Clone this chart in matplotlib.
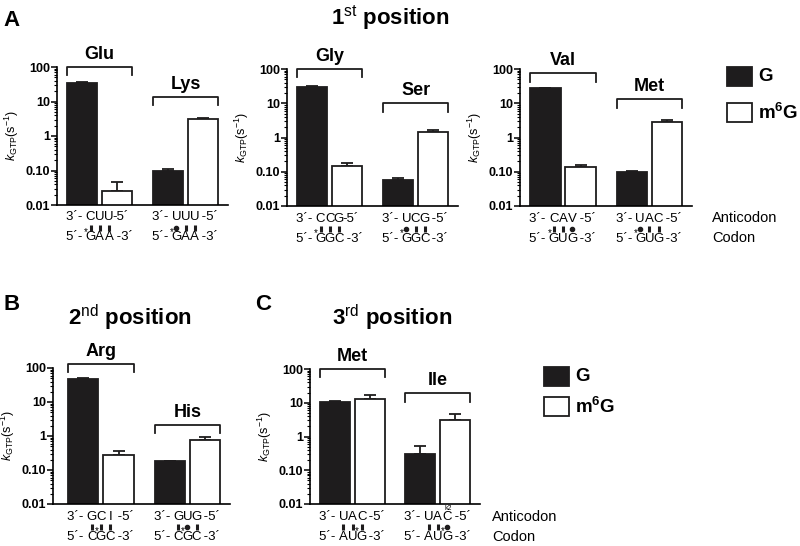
import numpy as np
import matplotlib
matplotlib.use('Agg')
import matplotlib.pyplot as plt
from matplotlib.patches import Rectangle
from matplotlib.transforms import offset_copy
from matplotlib.ticker import LogLocator, FixedLocator, FixedFormatter, NullFormatter

plt.rcParams['font.family'] = 'Liberation Sans'
plt.rcParams['mathtext.fontset'] = 'custom'
plt.rcParams['mathtext.rm'] = 'Liberation Sans'
plt.rcParams['mathtext.it'] = 'Liberation Sans:italic'
plt.rcParams['mathtext.bf'] = 'Liberation Sans:bold'

W, H = 800, 546

# ---- data ----
amino = [['Glu', 'Lys'], ['Gly', 'Ser'], ['Val', 'Met'], ['Arg', 'His'], ['Met', 'Ile']]
g_val = [[35, 0.10], [29, 0.056], [27, 0.098], [46, 0.18], [10.8, 0.30]]
g_err = [[2, 0.012], [2, 0.009], [1.5, 0.01], [6, 0.01], [0.8, 0.22]]
m6g_val = [[0.026, 3.1], [0.15, 1.45], [0.135, 2.9], [0.28, 0.75], [13, 3.1]]
m6g_err = [[0.021, 0.2], [0.03, 0.25], [0.025, 0.3], [0.08, 0.2], [4, 1.4]]
bracket_y = [[100, 13.5], [100, 10], [75, 13], [130, 2.1], [100, 19]]

anti_nt = [[('C', 'U', 'U'), ('U', 'U', 'U')], [('C', 'C', 'G'), ('U', 'C', 'G')],
           [('C', 'A', 'V'), ('U', 'A', 'C')], [('G', 'C', 'I'), ('G', 'U', 'G')],
           [('U', 'A', 'C'), ('U', 'A', 'C')]]
anti_suf = [['-5´', ' -5´'], ['-5´', ' -5´'], [' -5´', ' -5´'], [' -5´', ' -5´'], [' -5´', ' -5´']]
codon_nt = [('G', 'A', 'A'), ('G', 'G', 'C'), ('G', 'U', 'G'), ('C', 'G', 'C'), ('A', 'U', 'G')]
pairing = [[('|', '|', '|'), ('•', '|', '|')], [('|', '|', '|'), ('•', '|', '|')],
           [('|', '|', '•'), ('•', '|', '|')], [('|', '|', '|'), ('|', '•', '|')],
           [('|', '|', '|'), ('|', '|', '•')]]
star_pos = [0, 0, 0, 1, 2]

# axes boxes in pixels: left, right, top, bottom ; xlim left
boxes = [(57, 228, 67, 205), (287, 458, 69, 206), (520, 692, 69, 206),
         (53, 230, 368, 504), (310, 480, 369, 504)]
xleft = [-0.72, -0.72, -0.72, -0.86, -0.72]

xpos = np.array([0, 1, 2.45, 3.45])
width = 0.86
black = '#1e1c1d'

fig = plt.figure(figsize=(8, 5.46), dpi=100)


def fx(x):
    return x / W


def fy(y):
    return 1 - y / H


def off(ax, x, dx, dy, s, **kw):
    ax.annotate(s, xy=(x, 0), xycoords=('data', 'axes fraction'),
                xytext=(dx * 0.72, dy * 0.72), textcoords='offset points',
                annotation_clip=False, **kw)


def mark(ax, x, dx, dy, kind):
    tr = offset_copy(ax.get_xaxis_transform(), fig=fig, x=dx * 0.72, y=dy * 0.72, units='points')
    if kind == '|':
        ax.plot([x], [0], marker='|', ms=4.0, mew=2.2, color=black, transform=tr, clip_on=False)
    else:
        ax.plot([x], [0], marker='o', ms=3.0, color=black, transform=tr, clip_on=False)


for i in range(5):
    l, r, t, b = boxes[i]
    ax = fig.add_axes([fx(l), fy(b), (r - l) / W, (b - t) / H])
    ax.set_yscale('log')
    vals = [g_val[i][0], m6g_val[i][0], g_val[i][1], m6g_val[i][1]]
    errs = [g_err[i][0], m6g_err[i][0], g_err[i][1], m6g_err[i][1]]
    colors = [black, 'white', black, 'white']
    ax.bar(xpos, vals, width=width, color=colors, edgecolor=black, linewidth=1.3, zorder=2)
    ax.errorbar(xpos, vals, yerr=[np.zeros(4), errs], fmt='none', ecolor=black,
                elinewidth=1.3, capsize=4.5, capthick=1.3, zorder=1)
    ax.set_ylim(0.01, 100)
    ax.set_xlim(xleft[i], 4.16)
    ax.set_xticks([])
    ax.yaxis.set_major_locator(FixedLocator([0.01, 0.1, 1, 10, 100]))
    ax.yaxis.set_major_formatter(FixedFormatter(['0.01', '0.10', '1', '10', '100']))
    ax.yaxis.set_minor_locator(LogLocator(base=10, subs=np.arange(2, 10)))
    ax.yaxis.set_minor_formatter(NullFormatter())
    ax.tick_params(axis='y', which='major', length=4, width=1.1, labelsize=9, pad=1)
    ax.tick_params(axis='y', which='minor', length=2, width=0.8)
    for lab in ax.get_yticklabels():
        lab.set_fontweight('bold')
    for s in ['top', 'right']:
        ax.spines[s].set_visible(False)
    for s in ['left', 'bottom']:
        ax.spines[s].set_linewidth(1.2)
    ax.set_ylabel(r'$k_{\rm GTP}$(s$^{-1}$)', fontsize=9, labelpad=3)

    # brackets + amino acid names
    for j in range(2):
        x0 = xpos[2 * j] - width / 2
        x1 = xpos[2 * j + 1] + width / 2
        yb = bracket_y[i][j]
        ax.plot([x0, x0, x1, x1], [yb / 1.75, yb, yb, yb / 1.75], color=black,
                lw=1.3, clip_on=False)
        ax.text((x0 + x1) / 2, yb * 1.3, amino[i][j], ha='center', va='bottom',
                fontsize=13, fontweight='bold')

        # anticodon / codon rows
        xc = (xpos[2 * j] + xpos[2 * j + 1]) / 2
        sp = 9.2
        ya, ym, yc = -12.5, -22.5, -32.5
        fs = 9.5
        off(ax, xc, -1.5 * sp, ya, '3´- ', ha='right', va='center', fontsize=fs)
        off(ax, xc, 1.5 * sp - 1, ya, anti_suf[i][j], ha='left', va='center', fontsize=fs)
        off(ax, xc, -1.5 * sp, yc, '5´- ', ha='right', va='center', fontsize=fs)
        off(ax, xc, 1.5 * sp - 1, yc, ' -3´', ha='left', va='center', fontsize=fs)
        for k in range(3):
            dx = (k - 1) * sp
            off(ax, xc, dx, ya, anti_nt[i][j][k], ha='center', va='center', fontsize=fs)
            off(ax, xc, dx, yc, codon_nt[i][k], ha='center', va='center', fontsize=fs)
            mark(ax, xc, dx, ym, pairing[i][j][k])
        sk = star_pos[i]
        off(ax, xc, (sk - 1) * sp - 4.5, yc + 5.5, '*', ha='center', va='center', fontsize=7)
        if i == 4 and j == 1:
            off(ax, xc, sp + 1, ya + 8.5, 'k2', ha='center', va='center', fontsize=5)

# titles and panel letters
fig.text(fx(12), fy(20), 'A', fontsize=16, fontweight='bold', ha='center', va='center')
fig.text(fx(12), fy(305), 'B', fontsize=16, fontweight='bold', ha='center', va='center')
fig.text(fx(263), fy(305), 'C', fontsize=16, fontweight='bold', ha='center', va='center')
fig.text(fx(390), fy(18), r'1$^{\rm st}$ position', fontsize=16, fontweight='bold', ha='center', va='center')
fig.text(fx(130), fy(318), r'2$^{\rm nd}$ position', fontsize=16, fontweight='bold', ha='center', va='center')
fig.text(fx(392), fy(318), r'3$^{\rm rd}$ position', fontsize=16, fontweight='bold', ha='center', va='center')

# legends
for bx, gy, my in [(727, 67, 103), (544, 367, 397)]:
    fig.add_artist(Rectangle((fx(bx), fy(gy + 19)), 25 / W, 19 / H, transform=fig.transFigure,
                             facecolor=black, edgecolor=black, lw=1.3))
    fig.add_artist(Rectangle((fx(bx), fy(my + 19)), 25 / W, 19 / H, transform=fig.transFigure,
                             facecolor='white', edgecolor=black, lw=1.3))
    fig.text(fx(bx + 31), fy(gy + 9.5), 'G', fontsize=13.5, fontweight='bold', va='center')
    fig.text(fx(bx + 31), fy(my + 9.5), r'm$^{\bf 6}$G', fontsize=13.5, fontweight='bold', va='center')

for ax_x, ay, cy in [(712, 218, 238), (492, 517, 537)]:
    fig.text(fx(ax_x), fy(ay), 'Anticodon', fontsize=10.5, va='center')
    fig.text(fx(ax_x), fy(cy), 'Codon', fontsize=10.5, va='center')

fig.savefig('out.png', dpi=100)
